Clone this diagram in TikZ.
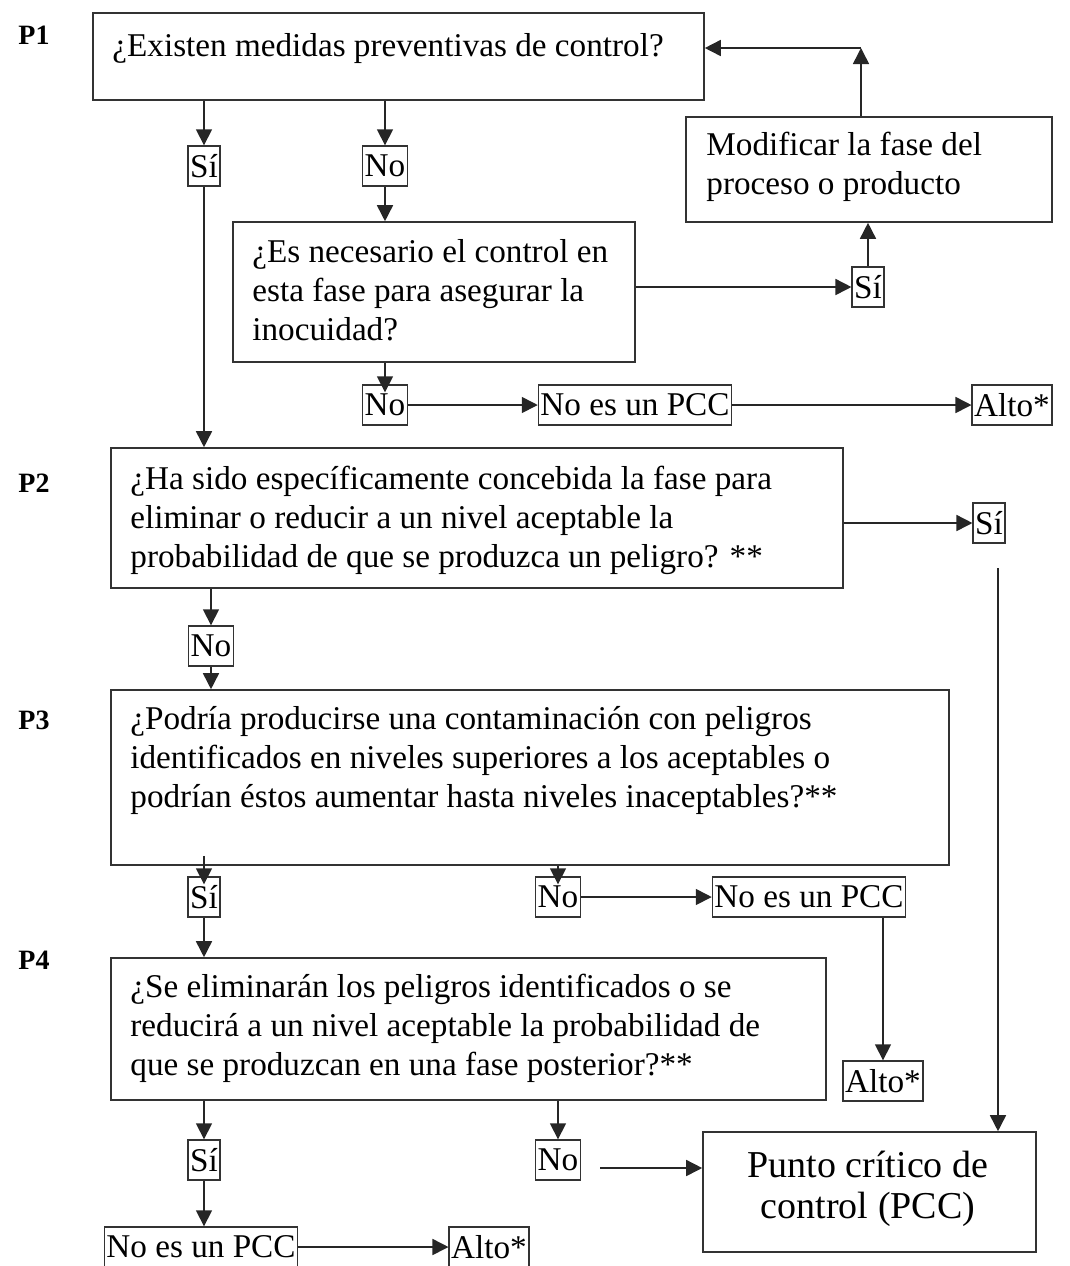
\documentclass[tikz,border=0pt]{standalone}
\usepackage{fontspec}
\setmainfont{Liberation Serif}
\usetikzlibrary{arrows.meta,fit}
\begin{document}
\begin{tikzpicture}[x=0.5pt,y=-0.5pt,
  box/.style={draw=black!80,line width=0.8pt,inner sep=0pt},
  txt/.style={anchor=north west,inner sep=0pt,align=left,font=\fontsize{16.6}{19.5}\selectfont},
  lbl/.style={draw=black!80,line width=0.7pt,inner xsep=1pt,inner ysep=0pt,minimum height=20pt,font=\fontsize{16.6}{19}\selectfont},
  plab/.style={font=\bfseries\fontsize{14}{17}\selectfont},
  arr/.style={draw=black!85,line width=0.8pt,-{Triangle[length=8pt,width=8pt]}},
  ln/.style={draw=black!85,line width=0.8pt}]
\useasboundingbox (0,0) rectangle (1070,1266);

% question labels
\node[plab] (lp1) at (34,35) {P1};
\node[plab] (lp2) at (34,483) {P2};
\node[plab] (lp3) at (34,720) {P3};
\node[plab] (lp4) at (34,960) {P4};

% big boxes
\node[box,fit={(93,13)(704,100)}] (p1) {};
\node[txt] (tp1) at (112,33) {¿Existen medidas preventivas de control?};
\node[box,fit={(233,222)(635,362)}] (b2) {};
\node[txt] (tb2) at (252,239) {¿Es necesario el control en\\esta fase para asegurar la\\inocuidad?};
\node[box,fit={(686,117)(1052,222)}] (mod) {};
\node[txt] (tmod) at (706,132) {Modificar la fase del\\proceso o producto};
\node[box,fit={(111,448)(843,588)}] (p2) {};
\node[txt] (tp2) at (130,466) {¿Ha sido específicamente concebida la fase para\\eliminar o reducir a un nivel aceptable la\\probabilidad de que se produzca un peligro? **};
\node[box,fit={(111,690)(949,865)}] (p3) {};
\node[txt] (tp3) at (130,706) {¿Podría producirse una contaminación con peligros\\identificados en niveles superiores a los aceptables o\\podrían éstos aumentar hasta niveles inaceptables?**};
\node[box,fit={(111,958)(826,1100)}] (p4) {};
\node[txt] (tp4) at (130,974) {¿Se eliminarán los peligros identificados o se\\reducirá a un nivel aceptable la probabilidad de\\que se produzcan en una fase posterior?**};
\node[box,fit={(703,1132)(1036,1252)}] (pcc) {};
\node[align=center,font=\fontsize{19}{20.5}\selectfont,inner sep=0pt] (tpcc) at (868,1189) {Punto crítico de\\control (PCC)};

% small label boxes
\node[lbl] (si1) at (204,166) {Sí};
\node[lbl] (no1) at (385,166) {No};
\node[lbl] (si2) at (868,287) {Sí};
\node[lbl] (no2) at (385,405) {No};
\node[lbl] (npcc1) at (635,405) {No es un PCC};
\node[lbl] (alto1) at (1012,405) {Alto*};
\node[lbl] (si3) at (989,523) {Sí};
\node[lbl] (no3) at (211,646) {No};
\node[lbl] (si4) at (204,897) {Sí};
\node[lbl] (no4) at (558,897) {No};
\node[lbl] (npcc2) at (809,897) {No es un PCC};
\node[lbl] (alto2) at (883,1081) {Alto*};
\node[lbl] (si5) at (204,1160) {Sí};
\node[lbl] (no5) at (558,1160) {No};
\node[lbl] (npcc3) at (201,1247) {No es un PCC};
\node[lbl] (alto3) at (489,1247) {Alto*};

\coordinate (c1) at (861,48);
\coordinate (n5e) at (600,1168);
\coordinate (v3) at (998,568);

% connectors
\draw[arr] (si1.north |- p1.south) -- (si1.north);
\draw[arr] (no1.north |- p1.south) -- (no1.north);
\draw[arr] (no1.south) -- (no1.south |- b2.north);
\draw[arr] (b2.east |- si2.west) -- (si2.west);
\draw[arr] (si2.north) -- (si2.north |- mod.south);
\draw[arr] (c1 |- mod.north) -- (c1);
\draw[arr] (c1) -- (c1 -| p1.east);
\draw[arr] (no2.north |- b2.south) -- ([yshift=-4pt]no2.north);
\draw[arr] (no2.east) -- (npcc1.west);
\draw[arr] (npcc1.east) -- (alto1.west);
\draw[arr] (si1.south) -- (si1.south |- p2.north);
\draw[arr] (p2.east |- si3.west) -- (si3.west);
\draw[arr] (v3) -- (v3 |- pcc.north);
\draw[arr] (no3.north |- p2.south) -- (no3.north);
\draw[arr] (no3.south) -- (no3.south |- p3.north);
\draw[arr] ([yshift=5pt]si4.north |- p3.south) -- ([yshift=-4pt]si4.north);
\draw[arr] (no4.north |- p3.south) -- ([yshift=-4pt]no4.north);
\draw[arr] (no4.east) -- (npcc2.west);
\draw[arr] (alto2.north |- npcc2.south) -- (alto2.north);
\draw[arr] (si4.south) -- (si4.south |- p4.north);
\draw[arr] (si5.north |- p4.south) -- (si5.north);
\draw[arr] (no5.north |- p4.south) -- (no5.north);
\draw[arr] (n5e) -- (n5e -| pcc.west);
\draw[arr] (si5.south) -- (si5.south |- npcc3.north);
\draw[arr] (npcc3.east) -- (alto3.west);
\end{tikzpicture}
\end{document}
